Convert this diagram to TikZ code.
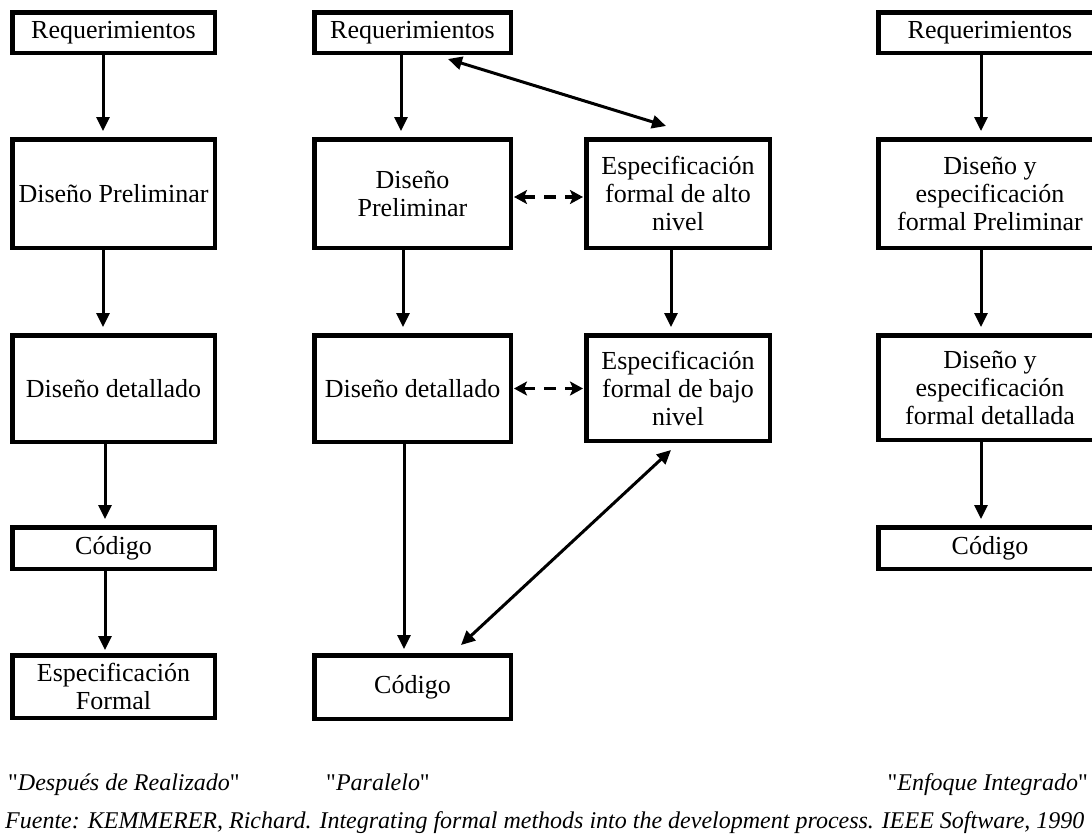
\documentclass[tikz,border=0pt]{standalone}
\usepackage{fontspec}
\setmainfont{Liberation Serif}
\usetikzlibrary{arrows.meta}
\tikzset{
  box/.style={draw, line width=4.5pt, inner sep=0pt, align=center, font=\fontsize{26}{28}\selectfont},
  arr/.style={line width=3pt, -{Triangle[length=14pt,width=13pt]}, shorten >=6pt},
  darr/.style={line width=3pt, {Triangle[length=14pt,width=13pt]}-{Triangle[length=14pt,width=13pt]}},
  dasharr/.style={line width=3.3pt, dash pattern=on 12pt off 9pt, {Stealth[length=13pt,width=14pt,inset=3pt]}-{Stealth[length=13pt,width=14pt,inset=3pt]}},
  captxt/.style={inner sep=0pt, font=\fontsize{24}{26}\selectfont\itshape}
}
\newcommand\mkbox[6]{\node[box, minimum width={#4-#2-4.5}, minimum height={#5-#3-4.5}] (#1) at ({(#2+#4)/2},{(#3+#5)/2}) {#6};}
\newcommand\qq{\textup{\textquotedbl}}
\begin{document}
\begin{tikzpicture}[x=1pt,y=-1pt]
\useasboundingbox (0,0) rectangle (1092,839);
% left column
\mkbox{lreq}{10}{10}{217}{55}{Requerimientos}
\mkbox{lpre}{10}{137}{217}{250}{Diseño Preliminar}
\mkbox{ldet}{10}{333}{217}{444}{Diseño detallado}
\mkbox{lcod}{10}{525}{217}{571}{Código}
\mkbox{lesp}{10}{653}{217}{720}{Especificación\\Formal}
% middle column
\mkbox{mreq}{312}{10}{513}{55}{Requerimientos}
\mkbox{mpre}{312}{137}{513}{250}{Diseño\\Preliminar}
\mkbox{mdet}{312}{333}{513}{444}{Diseño detallado}
\mkbox{mcod}{312}{653}{513}{721}{Código}
\mkbox{malt}{584}{137}{772}{250}{Especificación\\formal de alto\\nivel}
\mkbox{mbaj}{584}{333}{772}{443}{Especificación\\formal de bajo\\nivel}
% right column
\mkbox{rreq}{876}{10}{1104}{55}{Requerimientos}
\mkbox{rpre}{876}{137}{1104}{250}{Diseño y\\especificación\\formal Preliminar}
\mkbox{rdet}{876}{333}{1104}{442}{Diseño y\\especificación\\formal detallada}
\mkbox{rcod}{876}{525}{1104}{571}{Código}
% left arrows
\draw[arr] ([xshift=93pt]lreq.south west) -- ([xshift=93pt]lpre.north west);
\draw[arr] ([xshift=93pt]lpre.south west) -- ([xshift=93pt]ldet.north west);
\draw[arr] ([xshift=95pt]ldet.south west) -- ([xshift=95pt]lcod.north west);
\draw[arr, shorten >=3pt] ([xshift=95pt]lcod.south west) -- ([xshift=95pt]lesp.north west);
% middle arrows
\draw[arr] ([xshift=89pt]mreq.south west) -- ([xshift=89pt]mpre.north west);
\draw[arr] ([xshift=91pt]mpre.south west) -- ([xshift=91pt]mdet.north west);
\draw[arr, shorten >=4pt] ([xshift=92pt]mdet.south west) -- ([xshift=92pt]mcod.north west);
\draw[arr] ([xshift=87pt]malt.south west) -- ([xshift=87pt]mbaj.north west);
\draw[darr] ([xshift=136pt,yshift=-4pt]mreq.south west) -- ([xshift=82pt,yshift=11pt]malt.north west);
\draw[darr] ([xshift=149pt,yshift=8pt]mcod.north west) -- ([xshift=87pt,yshift=-7pt]mbaj.south west);
\draw[dasharr, shorten <=1pt, shorten >=1pt] ([yshift=-3.5pt]mpre.east) -- ([yshift=-3.5pt]malt.west);
\draw[dasharr, shorten <=1pt, shorten >=1pt] (mdet.east) -- (mdet.east -| mbaj.west);
% right arrows
\draw[arr] ([xshift=105pt,yshift=4pt]rreq.south west) -- ([xshift=105pt]rpre.north west);
\draw[arr] ([xshift=105pt]rpre.south west) -- ([xshift=105pt]rdet.north west);
\draw[arr] ([xshift=105pt]rdet.south west) -- ([xshift=105pt]rcod.north west);
% captions
\node[captxt, anchor=base west] (c1) at (8,790) {\qq Después de Realizado\qq};
\node[captxt, anchor=base west] (c2) at (326,790) {\qq Paralelo\qq};
\node[captxt, anchor=base east] (c3) at (1088,790) {\qq Enfoque Integrado\qq};
\node[captxt, anchor=base west] (c4) at (5,828) {Fuente: KEMMERER, Richard. Integrating formal methods into the development process. IEEE Software, 1990};
\end{tikzpicture}
\end{document}
